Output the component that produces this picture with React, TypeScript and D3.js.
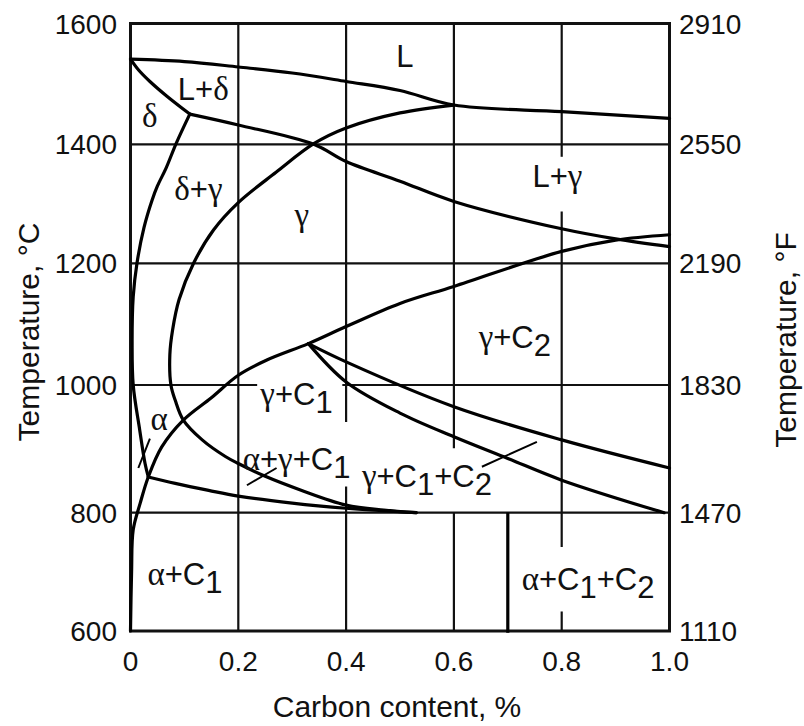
import React from "react";
import * as d3 from "d3";

type Pt = [number, number];

// axes
const X_TICKS = [0, 0.2, 0.4, 0.6, 0.8, 1.0];
const X_TICK_LABELS = ["0", "0.2", "0.4", "0.6", "0.8", "1.0"];
const C_TICKS = [600, 800, 1000, 1200, 1400, 1600];
const C_TICK_LABELS = ["600", "800", "1000", "1200", "1400", "1600"];
const F_TICK_LABELS = ["1110", "1470", "1830", "2190", "2550", "2910"];

// phase boundaries, [carbon %, °C]
const liquidus: Pt[] = [[0, 1541], [0.1, 1537], [0.2, 1528], [0.3, 1518], [0.4, 1504], [0.5, 1489], [0.6, 1465], [0.8, 1454], [1.0, 1443]];
const deltaSolidus: Pt[] = [[0, 1541], [0.015, 1523], [0.036, 1504], [0.067, 1480], [0.11, 1450]];
const gammaSolidus: Pt[] = [[0.11, 1450], [0.2, 1432], [0.34, 1400], [0.4, 1371], [0.5, 1338], [0.6, 1304], [0.8, 1258], [0.9, 1241], [1.0, 1228]];
const ferriteLoop: Pt[] = [[0.11, 1450], [0.085, 1402], [0.066, 1360], [0.05, 1330], [0.04, 1306], [0.025, 1260], [0.012, 1200], [0.005, 1145], [0.003, 1070], [0.005, 1000], [0.017, 930], [0.027, 877], [0.033, 856]];
const austeniteLoop: Pt[] = [[0.6, 1465], [0.5, 1452], [0.4, 1427], [0.34, 1401], [0.27, 1353], [0.2, 1302], [0.154, 1256], [0.117, 1200], [0.09, 1140], [0.078, 1090], [0.073, 1050], [0.075, 1000], [0.083, 976], [0.098, 945], [0.133, 914], [0.176, 888], [0.2, 877], [0.25, 857], [0.314, 836], [0.4, 812], [0.47, 804], [0.53, 800]];
const carbideSolvus: Pt[] = [[0, 600], [0.002, 700], [0.005, 771], [0.018, 815], [0.033, 856], [0.058, 903], [0.098, 945], [0.15, 980], [0.2, 1016], [0.253, 1041], [0.33, 1068], [0.4, 1096], [0.5, 1134], [0.6, 1162], [0.8, 1220], [0.9, 1239], [1.0, 1248]];
const eutectoidLower: Pt[] = [[0.033, 856], [0.083, 846], [0.145, 835], [0.2, 826], [0.3, 815], [0.4, 807], [0.53, 800]];
const c2Upper: Pt[] = [[0.33, 1068], [0.4, 1038], [0.6, 966], [0.8, 914], [1.0, 870]];
const c2Lower: Pt[] = [[0.33, 1068], [0.4, 1005], [0.5, 956], [0.6, 919], [0.7, 885], [0.8, 851], [0.99, 800]];
const c2Vertical: Pt[] = [[0.7, 800], [0.7, 597]];

// leader lines for the small labels
const leaders: Pt[][] = [
  [[0.0145, 870], [0.036, 916]],
  [[0.216, 843], [0.271, 870]],
  [[0.652, 872], [0.754, 911]],
];

// grid segments (broken where the labels sit)
const vGrid: { x: number; spans: Pt[] }[] = [
  { x: 0.2, spans: [[600, 1600]] },
  { x: 0.4, spans: [[600, 841], [942, 1600]] },
  { x: 0.6, spans: [[600, 800], [901, 1600]] },
  { x: 0.8, spans: [[600, 633], [742, 1287], [1379, 1600]] },
];
const hGrid: { t: number; spans: Pt[] }[] = [
  { t: 800, spans: [[0, 1]] },
  { t: 1000, spans: [[0, 0.235], [0.393, 1]] },
  { t: 1200, spans: [[0, 1]] },
  { t: 1400, spans: [[0, 1]] },
];

// region labels, "_" marks a subscript
const labelText = ["L", "L+δ", "δ", "δ+γ", "γ", "L+γ", "γ+C_2", "γ+C_1", "α", "α+γ+C_1", "γ+C_1+C_2", "α+C_1", "α+C_1+C_2"];
const labelC = [0.509, 0.135, 0.036, 0.126, 0.318, 0.792, 0.713, 0.308, 0.053, 0.308, 0.55, 0.101, 0.849];
const labelT = [1528, 1473, 1428, 1306, 1262, 1329, 1060, 969, 930, 867, 841, 678, 669];

const SANS = "'Liberation Sans', Arial, Helvetica, sans-serif";
const SERIF = "'Liberation Serif', 'Times New Roman', serif";
const FS = 31; // region labels
const TICK_FS = 28;
const TITLE_FS = 30;

const Label = ({ text, px, py }: { text: string; px: number; py: number }) => {
  const parts: { s: string; sub?: boolean; greek?: boolean }[] = [];
  for (let i = 0; i < text.length; i++) {
    if (text[i] === "_") {
      parts.push({ s: text[i + 1], sub: true });
      i++;
    } else parts.push({ s: text[i], greek: /[αγδ]/.test(text[i]) });
  }
  let prevSub = false;
  return (
    <text x={px} y={py} textAnchor="middle" fontSize={FS} fontFamily={SANS} fill="#111">
      {parts.map((p, k) => {
        let dy = 0;
        if (p.sub && !prevSub) dy = 8;
        if (!p.sub && prevSub) dy = -8;
        prevSub = !!p.sub;
        return (
          <tspan key={k} dy={dy || undefined} fontFamily={p.greek ? SERIF : SANS} fontSize={p.greek ? FS + 2 : FS}>
            {p.s}
          </tspan>
        );
      })}
    </text>
  );
};

export default function App() {
  const width = 804;
  const height = 726;

  const x = d3.scaleLinear().domain([0, 1]).range([130.5, 669.5]);
  // scanned figure: the temperature rows are not quite even
  const y = d3.scaleLinear().domain(C_TICKS).range([631, 512.7, 385, 263.3, 144.3, 23.5]);

  const curve = d3
    .line<Pt>()
    .x((d) => x(d[0]))
    .y((d) => y(d[1]))
    .curve(d3.curveCatmullRom.alpha(0.5));
  const straight = d3
    .line<Pt>()
    .x((d) => x(d[0]))
    .y((d) => y(d[1]));

  const boundaries = [liquidus, deltaSolidus, gammaSolidus, ferriteLoop, austeniteLoop, carbideSolvus, eutectoidLower, c2Upper, c2Lower];

  return (
    <svg width={width} height={height} style={{ position: "absolute", left: 0, top: 0, background: "#fff" }}>
      {/* grid */}
      <g stroke="#111" strokeWidth={2.2}>
        {vGrid.map((g) =>
          g.spans.map((s, i) => (
            <line key={`v${g.x}-${i}`} x1={x(g.x)} x2={x(g.x)} y1={y(s[0])} y2={y(s[1])} />
          ))
        )}
        {hGrid.map((g) =>
          g.spans.map((s, i) => (
            <line key={`h${g.t}-${i}`} x1={x(s[0])} x2={x(s[1])} y1={y(g.t)} y2={y(g.t)} />
          ))
        )}
      </g>

      {/* frame */}
      <rect x={x(0)} y={y(1600)} width={x(1) - x(0)} height={y(600) - y(1600)} fill="none" stroke="#111" strokeWidth={3} />

      {/* phase lines */}
      <g fill="none" stroke="#000" strokeWidth={3.2} strokeLinejoin="round" strokeLinecap="round">
        {boundaries.map((b, i) => (
          <path key={i} d={curve(b) ?? ""} />
        ))}
        <path d={straight(c2Vertical) ?? ""} strokeLinecap="butt" />
      </g>
      <g fill="none" stroke="#000" strokeWidth={2}>
        {leaders.map((l, i) => (
          <path key={i} d={straight(l) ?? ""} />
        ))}
      </g>

      {/* region labels */}
      {labelText.map((t, i) => (
        <Label key={t} text={t} px={x(labelC[i])} py={y(labelT[i])} />
      ))}

      {/* tick labels */}
      <g fontFamily={SANS} fontSize={TICK_FS} fill="#111">
        {C_TICKS.map((t, i) => (
          <text key={`l${t}`} x={117} y={y(t)} dy="0.36em" textAnchor="end">
            {C_TICK_LABELS[i]}
          </text>
        ))}
        {C_TICKS.map((t, i) => (
          <text key={`r${t}`} x={679} y={y(t)} dy="0.36em" textAnchor="start">
            {F_TICK_LABELS[i]}
          </text>
        ))}
        {X_TICKS.map((v, i) => (
          <text key={`x${v}`} x={x(v)} y={671} textAnchor="middle">
            {X_TICK_LABELS[i]}
          </text>
        ))}
      </g>
      <g fontFamily={SANS} fontSize={TITLE_FS} fill="#111">
        <text x={397} y={717} textAnchor="middle">
          Carbon content, %
        </text>
        <text transform="translate(39,332) rotate(-90)" textAnchor="middle">
          Temperature, °C
        </text>
        <text transform="translate(796,340) rotate(-90)" textAnchor="middle">
          Temperature, °F
        </text>
      </g>
    </svg>
  );
}
